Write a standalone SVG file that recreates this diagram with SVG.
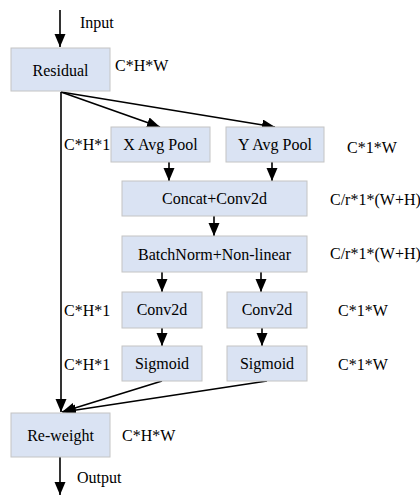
<svg xmlns="http://www.w3.org/2000/svg" width="420" height="496" viewBox="0 0 420 496">
<defs>
<marker id="ah" markerUnits="userSpaceOnUse" markerWidth="14" markerHeight="12" refX="13" refY="5.5" orient="auto">
<path d="M0,0 L13,5.5 L0,11 z" fill="#000"/>
</marker>
<style>
.box{fill:#dae3f3;stroke:#c4c4c4;stroke-width:1}
.t{font-size:16px;fill:#000}
.m{text-anchor:middle}
.c{fill:none;stroke:#000;stroke-width:1.6;marker-end:url(#ah)}
</style>
</defs>
<rect width="420" height="496" fill="#fff"/>
<g id="connectors">
<line class="c" x1="60" y1="10" x2="60" y2="47"/>
<line class="c" x1="61" y1="92" x2="160" y2="127"/>
<line class="c" x1="61" y1="92" x2="275" y2="127"/>
<line class="c" x1="61" y1="92" x2="61" y2="412"/>
<line class="c" x1="169" y1="162" x2="169" y2="181"/>
<line class="c" x1="272" y1="162" x2="272" y2="181"/>
<line class="c" x1="214" y1="216" x2="214" y2="236"/>
<line class="c" x1="162" y1="272" x2="162" y2="292"/>
<line class="c" x1="261" y1="272" x2="261" y2="292"/>
<line class="c" x1="162" y1="328" x2="162" y2="346"/>
<line class="c" x1="262" y1="328" x2="262" y2="346"/>
<line class="c" x1="162" y1="381" x2="62" y2="412"/>
<line class="c" x1="267" y1="381" x2="63" y2="412"/>
<line class="c" x1="60" y1="457" x2="60" y2="495"/>
</g>
<g font-family="'Liberation Serif', 'Times New Roman', Times, serif">
<g id="input"><text class="t" x="80" y="28">Input</text></g>
<g id="residual"><rect class="box" x="11" y="48" width="99" height="43"/><text class="t m" x="60.5" y="76">Residual</text></g>
<text class="t" x="115" y="71">C*H*W</text>
<g id="xpool"><rect class="box" x="111" y="127" width="99" height="35"/><text class="t m" x="160.5" y="150">X Avg Pool</text></g>
<g id="ypool"><rect class="box" x="226" y="127" width="98" height="35"/><text class="t m" x="275" y="150">Y Avg Pool</text></g>
<text class="t" x="64" y="150">C*H*1</text>
<text class="t" x="347" y="153">C*1*W</text>
<g id="concat"><rect class="box" x="122" y="181" width="185" height="35"/><text class="t m" x="214.5" y="204">Concat+Conv2d</text></g>
<text class="t" x="330" y="205">C/r*1*(W+H)</text>
<g id="bn"><rect class="box" x="122" y="236" width="185" height="36"/><text class="t m" x="214.5" y="260">BatchNorm+Non-linear</text></g>
<text class="t" x="330" y="259">C/r*1*(W+H)</text>
<g id="conv-l"><rect class="box" x="122" y="292" width="80" height="36"/><text class="t m" x="162" y="315">Conv2d</text></g>
<g id="conv-r"><rect class="box" x="227" y="292" width="80" height="36"/><text class="t m" x="267" y="315">Conv2d</text></g>
<text class="t" x="64" y="316">C*H*1</text>
<text class="t" x="338" y="316">C*1*W</text>
<g id="sig-l"><rect class="box" x="122" y="346" width="80" height="35"/><text class="t m" x="162" y="369">Sigmoid</text></g>
<g id="sig-r"><rect class="box" x="227" y="346" width="80" height="35"/><text class="t m" x="267" y="369">Sigmoid</text></g>
<text class="t" x="64" y="370">C*H*1</text>
<text class="t" x="338" y="370">C*1*W</text>
<g id="reweight"><rect class="box" x="11" y="413" width="99" height="44"/><text class="t m" x="60.5" y="441">Re-weight</text></g>
<text class="t" x="122" y="441">C*H*W</text>
<g id="output"><text class="t" x="77" y="483">Output</text></g>
</g>
</svg>
